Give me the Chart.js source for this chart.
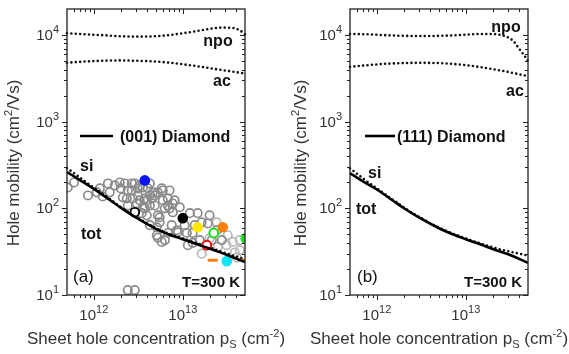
<!DOCTYPE html>
<html>
<head>
<meta charset="utf-8">
<script src="https://cdn.jsdelivr.net/npm/chart.js@4.4.1/dist/chart.umd.min.js"></script>
<style>
  html, body { margin: 0; padding: 0; background: #fff; }
  #wrap { position: relative; width: 569px; height: 354px; }
  canvas { position: absolute; top: 0; }
</style>
</head>
<body>
<div id="wrap">
  <canvas id="chartA" width="284" height="354" style="left:0"></canvas>
  <canvas id="chartB" width="285" height="354" style="left:284px"></canvas>
</div>
<script>
// ---- data ----
// panel (a): (001) diamond
const npoA_ps = [5e11, 8e11, 1.2e12, 2e12, 3e12, 5e12, 7e12, 1e13, 1.5e13, 2e13, 2.8e13, 3.6e13, 4.4e13, 5e13];
const npoA_mu = [10500, 10200, 10000, 9700, 9600, 9700, 10000, 10500, 11200, 11800, 12200, 12100, 11300, 10200];
const acA_ps = [5e11, 8e11, 1.2e12, 2e12, 3e12, 5e12, 7e12, 1e13, 1.5e13, 2e13, 3e13, 5e13];
const acA_mu = [4800, 4950, 5050, 5100, 5050, 4950, 4800, 4600, 4350, 4150, 3900, 3600];
const curve_ps = [5e11, 7e11, 1e12, 1.5e12, 2e12, 3e12, 5e12, 7e12, 1e13, 1.5e13, 2e13, 3e13, 5e13];
const totA_mu = [262, 212, 168, 126, 102, 78, 58, 50, 44, 38, 34.5, 29.5, 24];
const siA_mu = [292, 226, 173, 129, 104, 79.5, 59, 51, 45, 39, 35.5, 30.5, 26];

// panel (b): (111) diamond
const npoB_ps = [5e11, 8e11, 1.2e12, 2e12, 3e12, 5e12, 7e12, 1e13, 1.5e13, 2e13, 2.5e13, 3e13, 3.5e13, 4e13, 4.5e13, 5e13];
const npoB_mu = [10300, 10200, 10000, 9800, 9750, 9800, 9900, 10100, 10300, 10300, 10000, 9400, 8300, 6900, 5900, 5000];
const acB_ps = [5e11, 8e11, 1.2e12, 2e12, 3e12, 5e12, 7e12, 1e13, 1.5e13, 2e13, 3e13, 5e13];
const acB_mu = [4300, 4500, 4650, 4750, 4780, 4750, 4650, 4500, 4250, 4050, 3750, 3350];
const totB_mu = [255, 205, 165, 124, 101, 78, 59, 50.5, 44, 38, 34, 29.5, 23.5];
const siB_mu = [290, 222, 170, 127, 103, 79.5, 60, 51.5, 45, 39, 35.5, 32, 28.5];

// experimental points in panel (a)
const gray_ps = [5.1e11, 6.0e11, 8.6e11, 1.08e12, 1.17e12, 1.26e12, 1.51e12, 1.96e12, 2.01e12, 2.12e12,
  2.35e12, 2.67e12, 2.67e12, 2.74e12, 2.23e12, 2.89e12, 3.29e12, 4.05e12, 3.12e12, 3.74e12,
  4.49e12, 5.24e12, 4.84e12, 3.56e12, 3.94e12, 5.24e12, 6.78e12, 7.72e12, 6.28e12, 1.11e13,
  8.8e12, 5.1e12, 5.8e12, 3.74e12, 3.56e12, 4.6e12, 3.94e12, 3.46e12, 5.5e12, 7.5e12,
  8.6e12, 5.24e12, 6.3e12, 1.29e13, 1.63e13, 1.91e13, 2.41e13, 2.74e13, 1.29e13, 7.7e12,
  9.25e12, 1.2e13, 1.47e13, 2.41e12, 3.12e12, 4.26e12, 5.8e12, 4.84e12, 5.96e12, 6.78e12,
  4.26e12, 3.29e12, 7.1e12, 2.41e12, 2.89e12,
  1.72e12, 1.44e12, 2.41e12, 3.04e12, 4.26e12, 5.96e12, 8.1e12, 7.1e12, 5.5e12, 5.1e12,
  1.05e13, 1.36e13, 1.14e13, 1.55e13, 2.12e13, 2.0e13, 6.8e12, 4.26e12];
const gray_mu = [174, 199, 141, 153, 170, 137, 153, 199, 170, 134,
  130, 161, 194, 130, 194, 194, 184, 170, 141, 130,
  130, 153, 108, 103, 83, 83, 130, 90, 100, 52,
  53, 49, 41, 100, 174, 153, 124, 88, 69, 64,
  56, 46, 43, 52, 69, 67, 56, 43, 40, 114,
  103, 88, 88, 161, 170, 194, 170, 141, 124, 108,
  108, 124, 161, 11.4, 11.4,
  184, 194, 108, 114, 141, 161, 124, 100, 79, 60.5,
  64, 64, 37.6, 43, 43, 83, 52, 64];
const light_ps = [2.47e13, 1.63e13, 3.65e13, 3.84e13, 4.37e13, 4.05e13, 2.4e13, 2.0e13, 3.1e13, 3.2e13, 4.37e13];
const light_mu = [36, 30, 41, 31, 33, 27, 69, 45, 37.6, 49, 43];

// highlighted points: blue, black, yellow, orange, green(open), red(open), cyan, green, black(open), orange dash x2
const mark_ps = [3.74e12, 1.0e13, 1.47e13, 2.81e13, 2.23e13, 1.86e13, 3.12e13, 5.1e13, 2.89e12, 2.17e13, 5.1e13];
const mark_mu = [210, 77, 60.5, 60.5, 52, 37.6, 24.6, 45, 90, 25.2, 25.2];
const markStyle = [
  { fill: '#0a14f0', edge: '#0a14f0', shape: 'circle' },
  { fill: '#000000', edge: '#000000', shape: 'circle' },
  { fill: '#ffe800', edge: '#ffe800', shape: 'circle' },
  { fill: '#ff7f0e', edge: '#ff7f0e', shape: 'circle' },
  { fill: '#ffffff', edge: '#10e010', shape: 'circle' },
  { fill: '#ffffff', edge: '#ff0000', shape: 'circle' },
  { fill: '#10e8f8', edge: '#10e8f8', shape: 'circle' },
  { fill: '#20e020', edge: '#20e020', shape: 'circle' },
  { fill: '#ffffff', edge: '#000000', shape: 'circle' },
  { fill: '#ff7f0e', edge: '#ff7f0e', shape: 'line' },
  { fill: '#ff7f0e', edge: '#ff7f0e', shape: 'line' }
];

// axis ticks
const xMajor = [1e12, 1e13];
const xMinor = [6e11, 7e11, 8e11, 9e11, 2e12, 3e12, 4e12, 5e12, 6e12, 7e12, 8e12, 9e12, 2e13, 3e13, 4e13];
const yMajor = [10, 100, 1000, 10000];
const yMinor = [20, 30, 40, 50, 60, 70, 80, 90, 200, 300, 400, 500, 600, 700, 800, 900,
  2000, 3000, 4000, 5000, 6000, 7000, 8000, 9000];

const FONT = '"Liberation Sans", Arial, sans-serif';

const pts = (xs, ys) => xs.map((x, i) => ({ x: x, y: ys[i] }));

function dotted(xs, ys) {
  return {
    type: 'line', data: pts(xs, ys), borderColor: '#111', borderWidth: 2.6,
    borderDash: [0, 4.4], borderCapStyle: 'round', pointRadius: 0,
    cubicInterpolationMode: 'monotone', clip: 3, order: 1
  };
}

function solid(xs, ys) {
  return {
    type: 'line', data: pts(xs, ys), borderColor: '#000', borderWidth: 2.6,
    pointRadius: 0, cubicInterpolationMode: 'monotone', clip: 2, order: 0
  };
}

function circles(xs, ys, color, order) {
  return {
    type: 'scatter', data: pts(xs, ys), pointStyle: 'circle', pointRadius: 4.2,
    borderColor: color, borderWidth: 1.7, backgroundColor: 'rgba(0,0,0,0)',
    clip: 0, order: order
  };
}

// text with super/subscripts: parts = [text, size, dy]
function rich(ctx, parts, x, y, align, bold) {
  const f = s => (bold ? 'bold ' : '') + s + 'px ' + FONT;
  let w = 0;
  parts.forEach(p => { ctx.font = f(p[1]); w += ctx.measureText(p[0]).width; });
  let cx = align === 'center' ? x - w / 2 : align === 'right' ? x - w : x;
  ctx.textAlign = 'left';
  ctx.textBaseline = 'alphabetic';
  parts.forEach(p => {
    ctx.font = f(p[1]);
    ctx.fillText(p[0], cx, y + p[2]);
    cx += ctx.measureText(p[0]).width;
  });
}

const expOf = v => String(Math.round(Math.log10(v)));

const framePlugin = {
  id: 'frame',
  afterDatasetsDraw(chart, args, opts) {
    const ctx = chart.ctx;
    const a = chart.chartArea;
    const xs = chart.scales.x, ys = chart.scales.y;
    ctx.save();
    ctx.strokeStyle = '#222';
    ctx.fillStyle = '#222';
    ctx.lineWidth = 1.3;
    ctx.strokeRect(a.left, a.top, a.right - a.left, a.bottom - a.top);

    ctx.lineWidth = 1;
    const seg = (x1, y1, x2, y2) => { ctx.beginPath(); ctx.moveTo(x1, y1); ctx.lineTo(x2, y2); ctx.stroke(); };
    const xt = xMajor.map(v => [v, 5]).concat(xMinor.map(v => [v, 3]));
    xt.forEach(t => {
      const px = Math.round(xs.getPixelForValue(t[0])) + 0.5;
      seg(px, a.bottom, px, a.bottom + t[1]);
      seg(px, a.top, px, a.top + t[1]);
    });
    const yt = yMajor.map(v => [v, 5]).concat(yMinor.map(v => [v, 3]));
    yt.forEach(t => {
      const py = Math.round(ys.getPixelForValue(t[0])) + 0.5;
      seg(a.left - t[1], py, a.left, py);
      seg(a.right - t[1], py, a.right, py);
    });

    // tick labels
    ctx.fillStyle = '#333';
    xMajor.forEach(v => {
      const px = xs.getPixelForValue(v);
      rich(ctx, [['10', 15, 0], [expOf(v), 11, -7]], px, a.bottom + 25, 'center');
    });
    yMajor.forEach(v => {
      const py = ys.getPixelForValue(v);
      rich(ctx, [['10', 15, 0], [expOf(v), 11, -7]], a.left - 8, py + 5, 'right');
    });

    // axis titles
    rich(ctx, [['Sheet hole concentration p', 17, 0], ['S', 11, 4], [' (cm', 17, 0], ['-2', 11, -7], [')', 17, 0]],
      (a.left + a.right) / 2, 344, 'center');
    ctx.save();
    ctx.translate(opts.ytitleX, 163);
    ctx.rotate(-Math.PI / 2);
    rich(ctx, [['Hole mobility (cm', 17, 0], ['2', 11, -7], ['/Vs)', 17, 0]], 0, 0, 'center');
    ctx.restore();

    // annotations
    ctx.fillStyle = '#111';
    opts.labels.forEach(l => {
      rich(ctx, [[l.text, l.size || 16, 0]], l.x, l.y, l.align || 'left', l.bold !== false);
    });
    const lg = opts.legend;
    ctx.strokeStyle = '#000';
    ctx.lineWidth = 2.6;
    seg(lg.x1, lg.y, lg.x2, lg.y);
    rich(ctx, [[lg.text, 16, 0]], lg.tx, lg.y + 6, 'left', true);
    ctx.restore();
  }
};

function makeChart(id, datasets, pad, panel) {
  return new Chart(document.getElementById(id), {
    data: { datasets: datasets },
    options: {
      responsive: false,
      animation: false,
      layout: { padding: pad },
      plugins: { legend: { display: false }, tooltip: { enabled: false }, frame: panel },
      scales: {
        x: { type: 'logarithmic', min: 5e11, max: 5e13, display: false },
        y: { type: 'logarithmic', min: 10, max: 2e4, display: false }
      }
    },
    plugins: [framePlugin]
  });
}

const markSets = mark_ps.map((x, i) => ({
  type: 'scatter', data: [{ x: x, y: mark_mu[i] }],
  pointStyle: markStyle[i].shape,
  pointRadius: markStyle[i].shape === 'line' ? 5 : 4.4,
  borderWidth: markStyle[i].shape === 'line' ? 3 : 1.9,
  borderColor: markStyle[i].edge, backgroundColor: markStyle[i].fill,
  clip: 0, order: 0
}));

makeChart('chartA', [
  solid(curve_ps, totA_mu),
  dotted(curve_ps, siA_mu),
  dotted(npoA_ps, npoA_mu),
  dotted(acA_ps, acA_mu),
  ...markSets,
  circles(gray_ps, gray_mu, '#8a8a8a', 3),
  circles(light_ps, light_mu, '#b8b8b8', 4)
], { left: 67, right: 39, top: 9, bottom: 59 }, {
  ytitleX: 19,
  labels: [
    { text: 'npo', x: 218, y: 46, align: 'center' },
    { text: 'ac', x: 222, y: 86, align: 'center' },
    { text: 'si', x: 80, y: 171 },
    { text: 'tot', x: 81, y: 239 },
    { text: '(a)', x: 73, y: 282, bold: false, size: 17 },
    { text: 'T=300 K', x: 240, y: 287, align: 'right', size: 15 }
  ],
  legend: { x1: 80, x2: 113, y: 136, text: '(001) Diamond', tx: 120 }
});

makeChart('chartB', [
  solid(curve_ps, totB_mu),
  dotted(curve_ps, siB_mu),
  dotted(npoB_ps, npoB_mu),
  dotted(acB_ps, acB_mu)
], { left: 66, right: 41, top: 9, bottom: 59 }, {
  ytitleX: 22,
  labels: [
    { text: 'npo', x: 222, y: 32, align: 'center' },
    { text: 'ac', x: 231, y: 96, align: 'center' },
    { text: 'si', x: 84, y: 178 },
    { text: 'tot', x: 72, y: 214 },
    { text: '(b)', x: 73, y: 282, bold: false, size: 17 },
    { text: 'T=300 K', x: 238, y: 287, align: 'right', size: 15 }
  ],
  legend: { x1: 81, x2: 111, y: 136, text: '(111) Diamond', tx: 113 }
});
</script>
</body>
</html>
